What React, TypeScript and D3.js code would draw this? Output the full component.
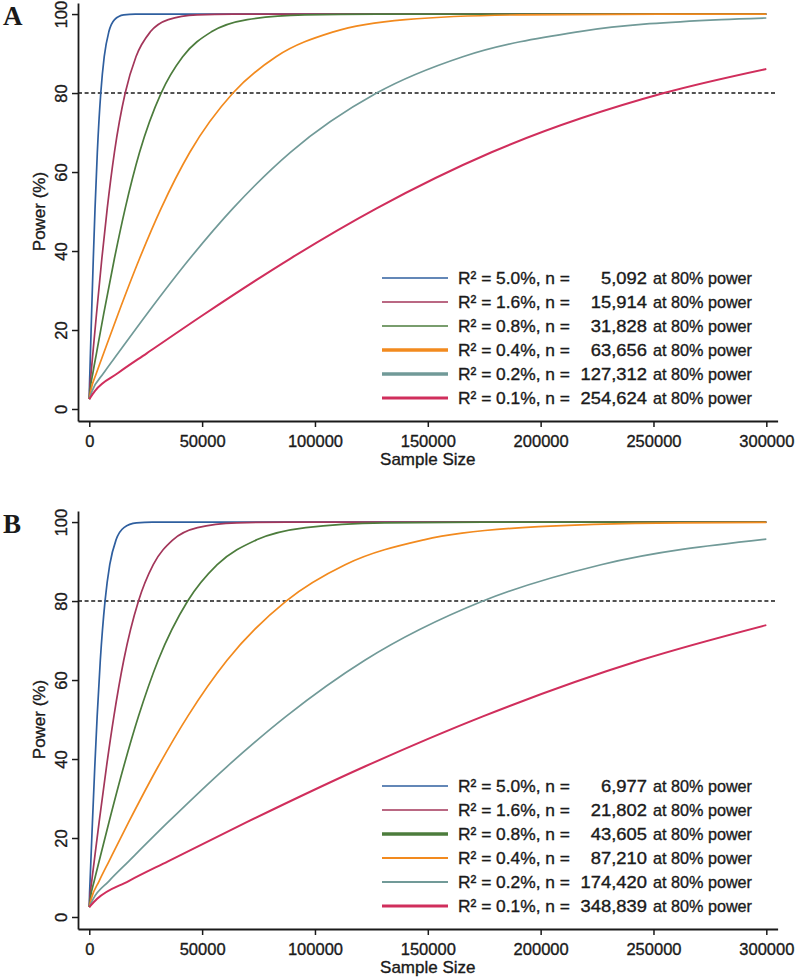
import React, { useEffect, useRef } from "react";
import * as d3 from "d3";

// legend / series info
const r2Labels = ["5.0%", "1.6%", "0.8%", "0.4%", "0.2%", "0.1%"];
const seriesColors = ["#2f5f9f", "#a3365a", "#4c7c3c", "#f28a1e", "#719a98", "#d02e5c"];
const n80A = ["5,092", "15,914", "31,828", "63,656", "127,312", "254,624"];
const n80B = ["6,977", "21,802", "43,605", "87,210", "174,420", "348,839"];
const legendWidthA = [1.6, 1.6, 1.6, 3.5, 3.5, 3];
const legendWidthB = [1.6, 1.6, 3.5, 2, 2, 3];

const xTicks = [0, 50000, 100000, 150000, 200000, 250000, 300000];
const yTicks = [0, 20, 40, 60, 80, 100];
const targetPower = 80;

// panel A curves: [sample size, power %]
const curveA50 = [[0, 2.5], [51, 4.6], [255, 9.1], [509, 14.1], [1018, 24.0], [1782, 38.1], [2546, 50.8], [3564, 65.0], [5092, 80.0], [6620, 89.2], [8656, 95.5], [11202, 98.6], [15276, 99.8], [20368, 100], [300000, 100]];
const curveA16 = [[0, 2.5], [159, 4.6], [796, 9.1], [1591, 14.1], [3183, 24.0], [5570, 38.1], [7957, 50.8], [11140, 65.0], [15914, 80.0], [20688, 89.2], [27054, 95.5], [35011, 98.6], [47742, 99.8], [63656, 100], [300000, 100]];
const curveA08 = [[0, 2.5], [318, 4.6], [1591, 9.1], [3183, 14.1], [6366, 24.0], [11140, 38.1], [15914, 50.8], [22280, 65.0], [31828, 80.0], [41376, 89.2], [54108, 95.5], [70022, 98.6], [95484, 99.8], [127312, 100], [300000, 100]];
const curveA04 = [[0, 2.5], [637, 4.6], [3183, 9.1], [6366, 14.1], [12731, 24.0], [22280, 38.1], [31828, 50.8], [44559, 65.0], [63656, 80.0], [82753, 89.2], [108215, 95.5], [140043, 98.6], [190968, 99.8], [254624, 100], [300000, 100]];
const curveA02 = [[0, 2.5], [1273, 4.6], [6366, 9.1], [12731, 14.1], [25462, 24.0], [44559, 38.1], [63656, 50.8], [89118, 65.0], [127312, 80.0], [165506, 89.2], [216430, 95.5], [280086, 98.6], [300000, 99.0]];
const curveA01 = [[0, 2.5], [2546, 4.6], [12731, 9.1], [25462, 14.1], [50925, 24.0], [89118, 38.1], [127312, 50.8], [178237, 65.0], [254624, 80.0], [300000, 86.1]];

// panel B curves
const curveB50 = [[0, 2.5], [70, 4.6], [349, 9.1], [698, 14.1], [1395, 24.0], [2442, 38.1], [3489, 50.8], [4884, 65.0], [6977, 80.0], [9070, 89.2], [11861, 95.5], [15349, 98.6], [20931, 99.8], [27908, 100], [300000, 100]];
const curveB16 = [[0, 2.5], [218, 4.6], [1090, 9.1], [2180, 14.1], [4360, 24.0], [7631, 38.1], [10901, 50.8], [15261, 65.0], [21802, 80.0], [28343, 89.2], [37063, 95.5], [47964, 98.6], [65406, 99.8], [87208, 100], [300000, 100]];
const curveB08 = [[0, 2.5], [436, 4.6], [2180, 9.1], [4361, 14.1], [8721, 24.0], [15262, 38.1], [21803, 50.8], [30524, 65.0], [43605, 80.0], [56687, 89.2], [74129, 95.5], [95931, 98.6], [130815, 99.8], [174420, 100], [300000, 100]];
const curveB04 = [[0, 2.5], [872, 4.6], [4361, 9.1], [8721, 14.1], [17442, 24.0], [30524, 38.1], [43605, 50.8], [61047, 65.0], [87210, 80.0], [113373, 89.2], [148257, 95.5], [191862, 98.6], [261630, 99.8], [300000, 99.9]];
const curveB02 = [[0, 2.5], [1744, 4.6], [8721, 9.1], [17442, 14.1], [34884, 24.0], [61047, 38.1], [87210, 50.8], [122094, 65.0], [174420, 80.0], [226746, 89.2], [300000, 95.7]];
const curveB01 = [[0, 2.5], [3488, 4.6], [17442, 9.1], [34884, 14.1], [69768, 24.0], [122094, 38.1], [174420, 50.8], [244187, 65.0], [300000, 73.9]];

const curvesA = [curveA50, curveA16, curveA08, curveA04, curveA02, curveA01];
const curvesB = [curveB50, curveB16, curveB08, curveB04, curveB02, curveB01];

const FONT = "'Liberation Sans', Arial, Helvetica, sans-serif";
const INK = "#1a1a1a";

// slightly heavier text, like the original export
function ink(sel, size) {
  return sel
    .style("font", size + "px " + FONT)
    .style("fill", INK)
    .style("stroke", INK)
    .style("stroke-width", 0.35);
}

function drawPanel(svg, top, letter, curves, n80, legendWidths) {
  const g = svg.append("g").attr("transform", "translate(0," + top + ")");

  const x = d3.scaleLinear().domain([-5000, 305000]).range([78, 777.6]);
  const y = d3.scaleLinear().domain([-3.04, 102.8]).range([421, 3]);

  // panel letter
  g.append("text")
    .attr("x", 3)
    .attr("y", 25)
    .style("font", "bold 27px 'Liberation Serif', 'Times New Roman', serif")
    .style("fill", INK)
    .text(letter);

  // dashed 80% line
  g.append("line")
    .attr("x1", x.range()[0]).attr("x2", x.range()[1])
    .attr("y1", y(targetPower)).attr("y2", y(targetPower))
    .style("stroke", INK)
    .style("stroke-width", 1.5)
    .style("stroke-dasharray", "4,2.6");

  // curves
  const line = d3.line()
    .x((d) => x(d[0]))
    .y((d) => y(d[1]))
    .curve(d3.curveMonotoneX);

  curves.forEach((c, i) => {
    g.append("path")
      .datum(c)
      .attr("d", line)
      .style("fill", "none")
      .style("stroke", seriesColors[i])
      .style("stroke-width", i === 5 ? 2 : 1.7);
  });

  // y axis
  const yAxis = g.append("g")
    .attr("transform", "translate(78,0)")
    .call(d3.axisLeft(y).tickValues(yTicks).tickSize(6).tickSizeOuter(0));
  yAxis.select(".domain").style("stroke", INK).style("stroke-width", 1.8);
  yAxis.selectAll(".tick line").style("stroke", INK).style("stroke-width", 1.5);
  ink(yAxis.selectAll(".tick text"), 16.5)
    .attr("transform", "rotate(-90)")
    .attr("x", 0)
    .attr("y", -11)
    .attr("dy", 0)
    .attr("text-anchor", "middle");

  // x axis
  const xAxis = g.append("g")
    .attr("transform", "translate(0,421)")
    .call(d3.axisBottom(x).tickValues(xTicks).tickFormat(d3.format("d")).tickSize(6).tickSizeOuter(0));
  xAxis.select(".domain").style("stroke", INK).style("stroke-width", 1.8);
  xAxis.selectAll(".tick line").style("stroke", INK).style("stroke-width", 1.5);
  ink(xAxis.selectAll(".tick text"), 16.5)
    .attr("y", 26)
    .attr("dy", 0);

  // axis titles
  ink(g.append("text"), 17)
    .attr("transform", "translate(45," + y(50) + ") rotate(-90)")
    .attr("text-anchor", "middle")
    .text("Power (%)");

  ink(g.append("text"), 17)
    .attr("x", (x.range()[0] + x.range()[1]) / 2)
    .attr("y", 465)
    .attr("text-anchor", "middle")
    .text("Sample Size");

  // legend
  const legend = g.append("g");
  r2Labels.forEach((r2, i) => {
    const ly = 278 + i * 24;
    legend.append("line")
      .attr("x1", 382).attr("x2", 448)
      .attr("y1", ly).attr("y2", ly)
      .style("stroke", seriesColors[i])
      .style("stroke-width", legendWidths[i]);
    ink(legend.append("text"), 17)
      .attr("x", 458).attr("y", ly + 6)
      .attr("textLength", 112)
      .attr("lengthAdjust", "spacingAndGlyphs")
      .text("R\u00b2 = " + r2 + ", n =");
    // numbers are set a little wider in the original
    const num = ink(legend.append("text"), 17)
      .attr("x", 647).attr("y", ly + 6)
      .attr("text-anchor", "end")
      .text(n80[i]);
    const w = num.node().getComputedTextLength();
    num.attr("textLength", w * 1.08).attr("lengthAdjust", "spacingAndGlyphs");
    ink(legend.append("text"), 17)
      .attr("x", 653).attr("y", ly + 6)
      .attr("textLength", 99)
      .attr("lengthAdjust", "spacingAndGlyphs")
      .text("at 80% power");
  });
}

export default function App() {
  const ref = useRef(null);

  useEffect(() => {
    const svg = d3.select(ref.current);
    svg.selectAll("*").remove();
    svg.append("rect").attr("width", 796).attr("height", 979).style("fill", "#ffffff");
    drawPanel(svg, 0, "A", curvesA, n80A, legendWidthA);
    drawPanel(svg, 508, "B", curvesB, n80B, legendWidthB);
  }, []);

  return (
    <svg
      ref={ref}
      width={796}
      height={979}
      style={{ position: "absolute", left: 0, top: 0, display: "block" }}
    />
  );
}
